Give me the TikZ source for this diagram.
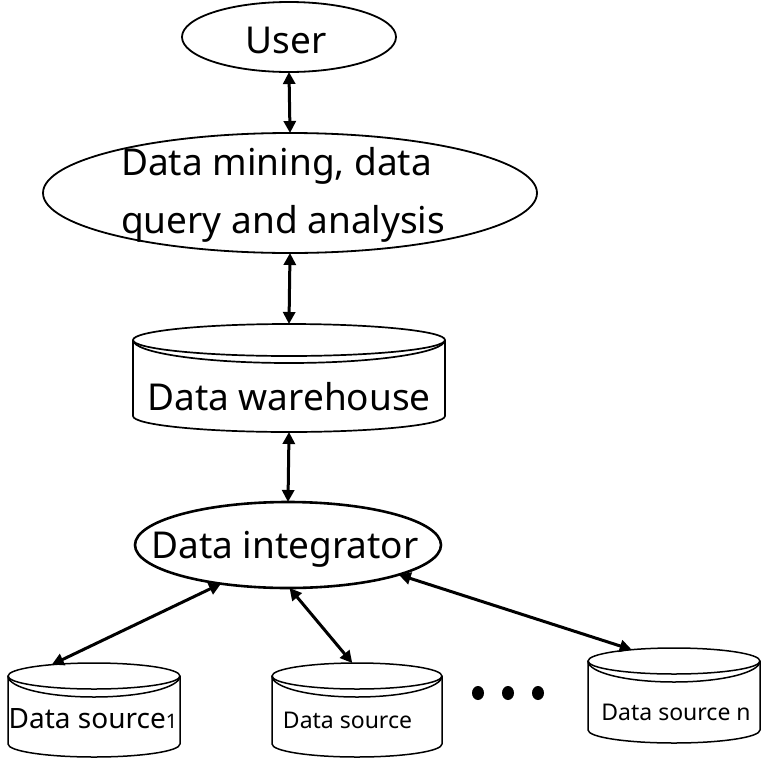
\documentclass[tikz,border=0pt]{standalone}
\usepackage{fontspec}
\setmainfont{Noto Sans}
\usetikzlibrary{shapes.geometric,arrows.meta}
\tikzset{
  oval/.style={ellipse, draw, line width=1.8pt, inner sep=0pt, outer sep=0pt},
  cyltop/.style={ellipse, draw, line width=1.5pt, inner sep=0pt, outer sep=0pt},
  cylline/.style={line width=1.5pt},
  link/.style={line width=3pt, {Triangle[length=12pt,width=12pt]}-{Triangle[length=12pt,width=12pt]}},
  bigtext/.style={font=\fontsize{37}{58}\selectfont, inner sep=0pt},
  dstext/.style={font=\fontsize{23}{28}\selectfont, inner sep=0pt, anchor=base}
}
\begin{document}
\begin{tikzpicture}[x=1pt,y=1pt]
\useasboundingbox (0,0) rectangle (768,-763);
% ellipses
\node[oval, minimum width=214pt, minimum height=70pt] (user) at (289,-37) {};
\node[bigtext, anchor=base] (usertxt) at (286,-53) {User};
\node[oval, minimum width=494pt, minimum height=120pt] (mining) at (290,-193) {};
\node[bigtext, anchor=base west] (miningtxt1) at (121,-175) {Data mining, data};
\node[bigtext, anchor=base west] (miningtxt2) at (121,-233) {query and analysis};
% warehouse cylinder
\node[cyltop, line width=1.7pt, minimum width=312pt, minimum height=32pt] (whtop) at (289,-340) {};
\draw[cylline, line width=1.7pt] (133,-340) arc[start angle=180, end angle=360, x radius=156pt, y radius=23pt];
\draw[cylline, line width=1.7pt] (133,-340) -- (133,-416) arc[start angle=180, end angle=360, x radius=156pt, y radius=16pt] -- (445,-340);
\coordinate (whbot) at (289,-432);
\node[bigtext, anchor=base] (whtxt) at (289,-410) {Data warehouse};
% integrator
\node[oval, line width=2.6pt, minimum width=306pt, minimum height=86pt] (integ) at (288,-545) {};
\node[bigtext, anchor=base] (integtxt) at (285,-558) {Data integrator};
% data source 1
\node[cyltop, minimum width=172pt, minimum height=26pt] (ds1top) at (94,-676) {};
\draw[cylline] (8,-676) arc[start angle=180, end angle=360, x radius=86pt, y radius=21pt];
\draw[cylline] (8,-676) -- (8,-744) arc[start angle=180, end angle=360, x radius=86pt, y radius=13pt] -- (180,-676);
\node[dstext, font=\fontsize{28}{32}\selectfont] (ds1) at (93,-728) {Data source{\fontsize{20}{24}\selectfont 1}};
% data source 2
\node[cyltop, minimum width=170pt, minimum height=26pt] (ds2top) at (357,-676) {};
\draw[cylline] (272,-676) arc[start angle=180, end angle=360, x radius=85pt, y radius=21pt];
\draw[cylline] (272,-676) -- (272,-744) arc[start angle=180, end angle=360, x radius=85pt, y radius=13pt] -- (442,-676);
\node[dstext] (ds2) at (347.5,-728) {Data source};
% data source n
\node[cyltop, minimum width=172pt, minimum height=26pt] (dsntop) at (674,-661) {};
\draw[cylline] (588,-661) arc[start angle=180, end angle=360, x radius=86pt, y radius=21pt];
\draw[cylline] (588,-661) -- (588,-730) arc[start angle=180, end angle=360, x radius=86pt, y radius=13pt] -- (760,-661);
\node[dstext] (dsn) at (676,-720) {Data source n};
% dots
\fill (478,-693) ellipse[x radius=6pt, y radius=7pt];
\fill (508,-693) ellipse[x radius=6pt, y radius=7pt];
\fill (538,-693) ellipse[x radius=6pt, y radius=7pt];
% connectors
\draw[link] (user.south) -- (mining.north);
\draw[link] (mining.south) -- (whtop.north);
\draw[link] (whbot) -- (integ.north);
\draw[link] (integ.210) -- (ds1top.165);
\draw[link] (integ.272) -- (ds2top.110);
\draw[link] (integ.345) -- (dsntop.165);
\end{tikzpicture}
\end{document}
